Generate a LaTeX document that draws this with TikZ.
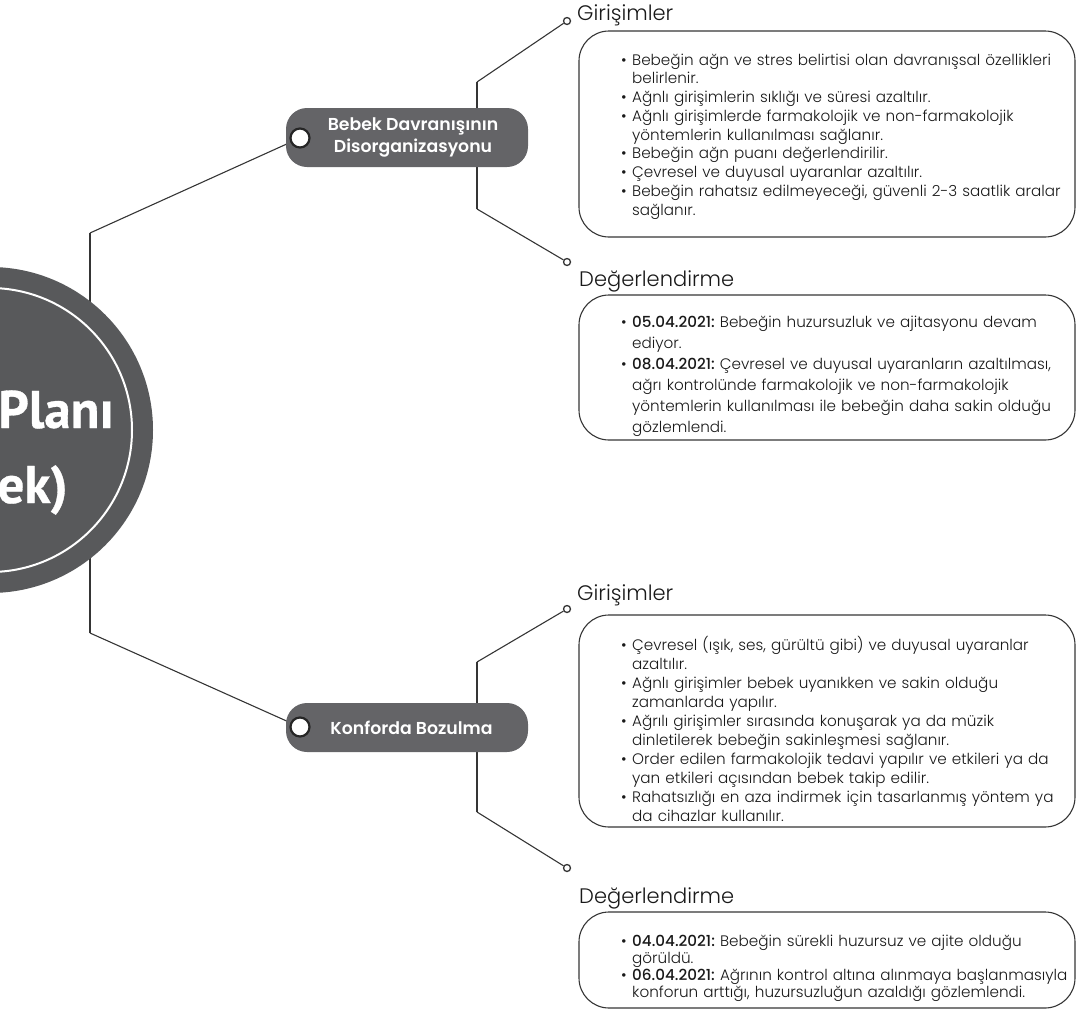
\documentclass[tikz,border=0pt]{standalone}
\usepackage{fontspec}
% body text: light geometric sans, with a medium weight for the dates
\IfFontExistsTF{Poppins Light}{%
  \IfFontExistsTF{Poppins Medium}%
    {\setmainfont{Poppins Light}[BoldFont={Poppins Medium}]}%
    {\setmainfont{Poppins Light}[BoldFont={Poppins}]}%
}{\setmainfont{Poppins}}
% heading font for the two branch nodes
\IfFontExistsTF{Poppins SemiBold}%
  {\newfontfamily\hfont{Poppins SemiBold}}%
  {\newfontfamily\hfontbase{Poppins}\newcommand\hfont{\hfontbase\bfseries}}
% heavy font for the title disc
\newfontfamily\corefont{PT Sans}[BoldFeatures={FakeBold=0.6}]

\definecolor{discgray}{HTML}{58595B}
\definecolor{nodegray}{HTML}{646467}
\definecolor{inkline}{HTML}{353535}

\newcommand\dotline{\makebox[11bp][l]{•}}
\newcommand\contline{\hspace*{11bp}}

\tikzset{
  wire/.style={draw=inkline, line width=1.1bp},
  branch/.style={fill=nodegray, rounded corners=21bp, minimum width=242bp,
    text=white, align=center, inner sep=0pt,
    font=\hfont\fontsize{17.3bp}{22bp}\selectfont},
  knob/.style={circle, draw=black!85, fill=white, line width=2.2bp,
    minimum size=19bp, inner sep=0pt},
  tip/.style={circle, draw=inkline, fill=white, line width=1.3bp,
    minimum size=7bp, inner sep=0pt},
  heading/.style={anchor=base west, inner sep=0pt,
    font=\fontsize{21bp}{25bp}\selectfont, text=black!90},
  panel/.style={draw=inkline, line width=1.1bp, rounded corners=30bp},
  paneltext/.style={anchor=base west, inner sep=0pt, align=left,
    text width=460bp, text=black!90},
  title/.style={anchor=base east, inner sep=0pt, text=white,
    font=\corefont\bfseries\fontsize{53bp}{53bp}\selectfont},
}

\begin{document}
\begin{tikzpicture}[x=1bp, y=-1bp]
\useasboundingbox (0,0) rectangle (1089,1020);

% trunk and branch bends
\coordinate (hubA) at (90,233);
\coordinate (hubB) at (90,633);
\coordinate (bendA) at (477,82);
\coordinate (bendB) at (477,209);
\coordinate (bendC) at (477,662);
\coordinate (bendD) at (477,812);

% end tips of the sub-branches
\node[tip] (tipGA) at (567,21) {};
\node[tip] (tipDA) at (567,262) {};
\node[tip] (tipGB) at (567,609) {};
\node[tip] (tipDB) at (567,868) {};

% branch knobs (positions used by the wires)
\coordinate (knobApos) at (300,138);
\coordinate (knobBpos) at (300,727);

% wires, drawn under everything else
\draw[wire] (hubA) -- (hubB);
\draw[wire] (hubA) -- (knobApos);
\draw[wire] (hubB) -- (knobBpos);
\draw[wire] (bendA) -- (bendB);
\draw[wire] (bendA) -- (tipGA);
\draw[wire] (bendB) -- (tipDA);
\draw[wire] (bendC) -- (bendD);
\draw[wire] (bendC) -- (tipGB);
\draw[wire] (bendD) -- (tipDB);

% title disc
\node[circle, fill=discgray, minimum size=326bp, inner sep=0pt] (core) at (-10,430) {};
\node[circle, draw=white, line width=2bp, minimum size=284bp, inner sep=0pt] (coreRing) at (core.center) {};
\node[title] (titleA) at (114,428) {Planı};
\node[title] (titleB) at (68,503) {ek)};

% branch nodes
\node[branch, minimum height=59bp] (bdd) at (407,137.5) {\hspace*{12bp}Bebek Davranışının\\\hspace*{12bp}Disorganizasyonu};
\node[knob] (knobA) at (knobApos) {};
\node[branch, minimum height=49bp] (kb) at (407,727.5) {\hspace*{9bp}Konforda Bozulma};
\node[knob] (knobB) at (knobBpos) {};

% section headings
\node[heading] (hGA) at (577,20) {Girişimler};
\node[heading] (hDA) at (579,286) {Değerlendirme};
\node[heading] (hGB) at (577,600) {Girişimler};
\node[heading] (hDB) at (579,903) {Değerlendirme};

% panels
\draw[panel] (579,31) rectangle (1075,237);
\draw[panel] (579,295) rectangle (1075,440);
\draw[panel] (579,615) rectangle (1075,827);
\draw[panel] (579,912) rectangle (1075,1008);

% panel contents
\node[paneltext, font=\fontsize{15.2bp}{18.75bp}\selectfont] (pGA) at (621,65) {%
\dotline Bebeğin ağn ve stres belirtisi olan davranışsal özellikleri\\
\contline belirlenir.\\
\dotline Ağnlı girişimlerin sıklığı ve süresi azaltılır.\\
\dotline Ağnlı girişimlerde farmakolojik ve non-farmakolojik\\
\contline yöntemlerin kullanılması sağlanır.\\
\dotline Bebeğin ağn puanı değerlendirilir.\\
\dotline Çevresel ve duyusal uyaranlar azaltılır.\\
\dotline Bebeğin rahatsız edilmeyeceği, güvenli 2-3 saatlik aralar\\
\contline sağlanır.};

\node[paneltext, font=\fontsize{15.2bp}{21bp}\selectfont] (pDA) at (621,327) {%
\dotline\textbf{05.04.2021:}~Bebeğin huzursuzluk ve ajitasyonu devam\\
\contline ediyor.\\
\dotline\textbf{08.04.2021:}~Çevresel ve duyusal uyaranların azaltılması,\\
\contline ağrı kontrolünde farmakolojik ve non-farmakolojik\\
\contline yöntemlerin kullanılması ile bebeğin daha sakin olduğu\\
\contline gözlemlendi.};

\node[paneltext, font=\fontsize{15.2bp}{19bp}\selectfont] (pGB) at (621,650) {%
\dotline Çevresel (ışık, ses, gürültü gibi) ve duyusal uyaranlar\\
\contline azaltılır.\\
\dotline Ağnlı girişimler bebek uyanıkken ve sakin olduğu\\
\contline zamanlarda yapılır.\\
\dotline Ağrılı girişimler sırasında konuşarak ya da müzik\\
\contline dinletilerek bebeğin sakinleşmesi sağlanır.\\
\dotline Order edilen farmakolojik tedavi yapılır ve etkileri ya da\\
\contline yan etkileri açısından bebek takip edilir.\\
\dotline Rahatsızlığı en aza indirmek için tasarlanmış yöntem ya\\
\contline da cihazlar kullanılır.};

\node[paneltext, font=\fontsize{15.2bp}{17.3bp}\selectfont] (pDB) at (621,946) {%
\dotline\textbf{04.04.2021:}~Bebeğin sürekli huzursuz ve ajite olduğu\\
\contline görüldü.\\
\dotline\textbf{06.04.2021:}~Ağrının kontrol altına alınmaya başlanmasıyla\\
\contline konforun arttığı, huzursuzluğun azaldığı gözlemlendi.};

\end{tikzpicture}
\end{document}
